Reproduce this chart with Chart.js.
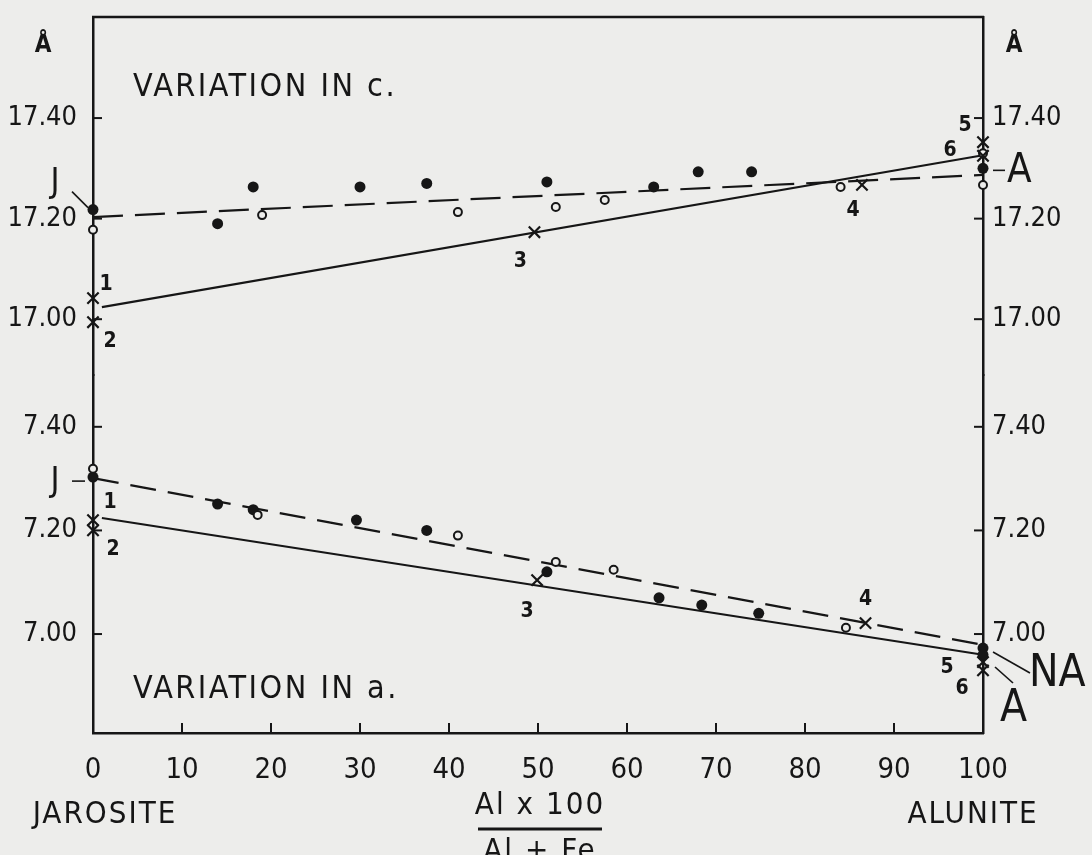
<!DOCTYPE html>
<html>
<head>
<meta charset="utf-8">
<title>Variation in c and a, jarosite - alunite</title>
<script src="https://cdn.jsdelivr.net/npm/chart.js@4.4.1/dist/chart.umd.min.js"></script>
<style>
    html, body { margin: 0; padding: 0; background: #ededeb; }
    #wrap { position: relative; width: 1092px; height: 855px; }
</style>
</head>
<body>
<div id="wrap"><canvas id="chart"></canvas></div>
<script>
// --- Data ---
// x = Al x 100 / (Al + Fe), 0 = jarosite, 100 = alunite
const xTicks = [0, 10, 20, 30, 40, 50, 60, 70, 80, 90, 100];
const cTicks = [17.00, 17.20, 17.40];
const aTicks = [7.00, 7.20, 7.40];

// Variation in c (Å)
const cDotX = [0, 14, 18, 30, 37.5, 51, 63, 68, 74, 100];
const cDotY = [17.218, 17.19, 17.263, 17.263, 17.27, 17.273, 17.263, 17.293, 17.293, 17.30];
const cRingX = [0, 19, 41, 52, 57.5, 84, 100, 100];
const cRingY = [17.178, 17.207, 17.213, 17.223, 17.237, 17.263, 17.33, 17.267];
const cCrossX = [0, 0, 49.6, 86.4, 100, 100];
const cCrossY = [17.042, 16.994, 17.173, 17.267, 17.352, 17.325];
const cCrossNum = ['1', '2', '3', '4', '5', '6'];
const cDashX = [0, 100];
const cDashY = [17.203, 17.287];
const cLineX = [1, 100];
const cLineY = [17.024, 17.326];

// Variation in a (Å)
const aDotX = [0, 14, 18, 29.6, 37.5, 51, 63.6, 68.4, 74.8, 100, 100];
const aDotY = [7.303, 7.251, 7.24, 7.22, 7.20, 7.12, 7.07, 7.056, 7.04, 6.973, 6.96];
const aRingX = [0, 18.5, 41, 52, 58.5, 84.6];
const aRingY = [7.319, 7.23, 7.19, 7.139, 7.124, 7.012];
const aCrossX = [0, 0, 49.9, 86.8, 100, 100];
const aCrossY = [7.22, 7.20, 7.104, 7.021, 6.946, 6.93];
const aCrossNum = ['1', '2', '3', '4', '5', '6'];
const aDashX = [0, 100];
const aDashY = [7.301, 6.979];
const aLineX = [1, 100];
const aLineY = [7.224, 6.96];

// --- Styling ---
const ink = '#161616';
const paper = '#ededeb';
const FONT = '"Liberation Sans Narrow", "DejaVu Sans Condensed", "Liberation Sans", sans-serif';

function pts(xs, ys) {
    return xs.map((x, i) => ({ x: x, y: ys[i] }));
}

function dots(xs, ys, axis) {
    return {
        data: pts(xs, ys), yAxisID: axis, showLine: false, clip: false, order: 1,
        pointStyle: 'circle', pointRadius: 5.5, pointBackgroundColor: ink,
        pointBorderColor: ink, pointBorderWidth: 0
    };
}

function rings(xs, ys, axis) {
    return {
        data: pts(xs, ys), yAxisID: axis, showLine: false, clip: false, order: 1,
        pointStyle: 'circle', pointRadius: 4, pointBackgroundColor: paper,
        pointBorderColor: ink, pointBorderWidth: 2
    };
}

function crosses(xs, ys, axis) {
    return {
        data: pts(xs, ys), yAxisID: axis, showLine: false, clip: false, order: 1,
        pointStyle: 'crossRot', pointRadius: 8, pointBorderColor: ink, pointBorderWidth: 2.2
    };
}

function trend(xs, ys, axis, dash) {
    return {
        data: pts(xs, ys), yAxisID: axis, showLine: true, clip: false, order: 2,
        borderColor: ink, borderWidth: 2.2, borderDash: dash, pointRadius: 0, fill: false
    };
}

function noPadding(s) {
    s.paddingTop = 0;
    s.paddingBottom = 0;
    s.paddingLeft = 0;
    s.paddingRight = 0;
}

function yAxis(pos, min, max, ticks, width, pad) {
    return {
        type: 'linear', position: pos, stack: pos, stackWeight: 1, min: min, max: max,
        afterBuildTicks: s => { s.ticks = ticks.map(v => ({ value: v })); },
        afterFit: s => { s.width = width; noPadding(s); },
        grid: { display: false, drawTicks: false },
        border: { color: ink, width: 2.5 },
        ticks: {
            color: ink, padding: pad, font: { family: FONT, size: 27 },
            callback: v => v.toFixed(2)
        }
    };
}

function line(ctx, x1, y1, x2, y2) {
    ctx.beginPath();
    ctx.moveTo(x1, y1);
    ctx.lineTo(x2, y2);
    ctx.stroke();
}

function text(ctx, str, x, y, size, align, spacing, weight) {
    ctx.font = (weight || '') + ' ' + size + 'px ' + FONT;
    ctx.textAlign = align || 'center';
    ctx.textBaseline = 'middle';
    ctx.letterSpacing = (spacing || 0) + 'px';
    ctx.fillText(str, x, y);
}

// frame, inward tick marks and all the lettering
const figurePlugin = {
    id: 'figure',
    beforeDatasetsDraw(chart) {
        const ctx = chart.ctx, area = chart.chartArea;
        const sx = chart.scales.x, syc = chart.scales.yc, sya = chart.scales.ya;
        ctx.save();
        ctx.strokeStyle = ink;
        ctx.lineWidth = 2.5;
        line(ctx, area.left - 1, area.top, area.right + 1, area.top);
        ctx.lineWidth = 2;
        xTicks.slice(1, -1).forEach(v => {
            const p = sx.getPixelForValue(v);
            line(ctx, p, area.bottom, p, area.bottom - 10);
        });
        [[syc, cTicks], [sya, aTicks]].forEach(([s, t]) => t.forEach(v => {
            const p = s.getPixelForValue(v);
            line(ctx, area.left, p, area.left + 9, p);
            line(ctx, area.right, p, area.right - 9, p);
        }));
        ctx.restore();
    },
    afterDraw(chart) {
        const ctx = chart.ctx;
        const sx = chart.scales.x, syc = chart.scales.yc, sya = chart.scales.ya;
        ctx.save();
        ctx.fillStyle = ink;
        ctx.strokeStyle = ink;
        ctx.lineWidth = 1.6;

        // numbered specimens
        const cOff = [[13, -14], [17, 19], [-14, 29], [-9, 26], [-18, -17], [-33, -5]];
        const aOff = [[17, -18], [20, 19], [-10, 31], [0, -24], [-36, 6], [-21, 18]];
        cCrossNum.forEach((n, i) => {
            text(ctx, n, sx.getPixelForValue(cCrossX[i]) + cOff[i][0], syc.getPixelForValue(cCrossY[i]) + cOff[i][1], 21, 'center', 0, 'bold');
        });
        aCrossNum.forEach((n, i) => {
            text(ctx, n, sx.getPixelForValue(aCrossX[i]) + aOff[i][0], sya.getPixelForValue(aCrossY[i]) + aOff[i][1], 21, 'center', 0, 'bold');
        });

        // J / A / NA end members
        const x0 = sx.getPixelForValue(0), x100 = sx.getPixelForValue(100);
        let y = syc.getPixelForValue(cDotY[0]);
        text(ctx, 'J', x0 - 38, y - 26, 34, 'center');
        line(ctx, x0 - 21, y - 18, x0 - 5, y - 2);
        y = syc.getPixelForValue(cDotY[cDotY.length - 1]);
        line(ctx, x100 + 10, y + 2, x100 + 22, y + 2);
        text(ctx, 'A', x100 + 24, y + 3, 40, 'left');

        y = sya.getPixelForValue(aDashY[0]);
        text(ctx, 'J', x0 - 38, y + 4, 34, 'center');
        line(ctx, x0 - 21, y + 3, x0 - 8, y + 3);
        y = sya.getPixelForValue(aDotY[aDotY.length - 2]);
        line(ctx, x100 + 10, y + 4, x100 + 47, y + 25);
        text(ctx, 'NA', x100 + 46, y + 27, 44, 'left');
        y = sya.getPixelForValue(aCrossY[aCrossY.length - 2]);
        line(ctx, x100 + 12, y + 5, x100 + 30, y + 21);
        text(ctx, 'A', x100 + 17, y + 48, 44, 'left');

        // Å unit marks
        text(ctx, 'Å', 43, 46, 24, 'center', 0, 'bold');
        text(ctx, 'Å', 1014, 46, 24, 'center', 0, 'bold');

        // panel titles
        text(ctx, 'VARIATION IN c.', 133, 88, 32, 'left', 2.5);
        text(ctx, 'VARIATION IN a.', 133, 690, 32, 'left', 2.5);

        // x-axis captions
        text(ctx, 'JAROSITE', 105, 815, 31, 'center', 2);
        text(ctx, 'ALUNITE', 973, 815, 31, 'center', 2);
        text(ctx, 'Al x 100', 540, 806, 31, 'center', 2);
        ctx.lineWidth = 3;
        line(ctx, 478, 829, 602, 829);
        text(ctx, 'Al + Fe', 540, 852, 31, 'center', 2);
        ctx.restore();
    }
};

document.addEventListener('DOMContentLoaded', function () {
    const ctx = document.getElementById('chart').getContext('2d');
    new Chart(ctx, {
        type: 'scatter',
        data: {
            datasets: [
                crosses(cCrossX, cCrossY, 'yc'),
                rings(cRingX, cRingY, 'yc'),
                dots(cDotX, cDotY, 'yc'),
                crosses(aCrossX, aCrossY, 'ya'),
                rings(aRingX, aRingY, 'ya'),
                dots(aDotX, aDotY, 'ya'),
                trend(cDashX, cDashY, 'yc', [30, 12]),
                trend(cLineX, cLineY, 'yc', []),
                trend(aDashX, aDashY, 'ya', [26, 12]),
                trend(aLineX, aLineY, 'ya', [])
            ]
        },
        options: {
            responsive: true,
            maintainAspectRatio: false,
            animation: false,
            layout: { padding: { top: 17, left: 0, right: 0, bottom: 0 } },
            plugins: { legend: { display: false }, tooltip: { enabled: false } },
            scales: {
                x: {
                    type: 'linear', position: 'bottom', min: 0, max: 100,
                    afterBuildTicks: s => { s.ticks = xTicks.map(v => ({ value: v })); },
                    afterFit: s => { s.height = 122; noPadding(s); },
                    grid: { display: false, drawTicks: false },
                    border: { color: ink, width: 2.5 },
                    ticks: { color: ink, padding: 20, autoSkip: false, maxRotation: 0, font: { family: FONT, size: 29 } }
                },
                ya: yAxis('left', 6.809, 7.500, aTicks, 93, 16),
                yc: yAxis('left', 16.889, 17.601, cTicks, 93, 16),
                ycR: yAxis('right', 16.889, 17.601, cTicks, 109, 9),
                yaR: yAxis('right', 6.809, 7.500, aTicks, 109, 9)
            }
        },
        plugins: [figurePlugin]
    });
});
</script>
</body>
</html>
